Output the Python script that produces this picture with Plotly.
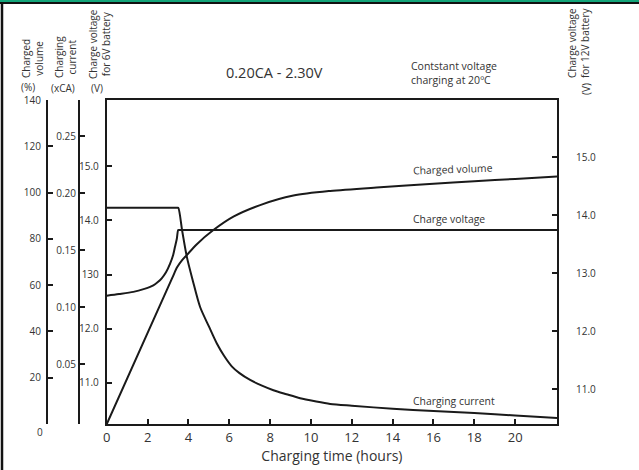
import plotly.graph_objects as go

# ---------------- data ----------------
vol_hours = [0, 3.2, 3.45, 3.7, 3.92, 4.41, 5.22, 6.2, 7.51, 9.14, 10.94, 13.39, 16, 18, 20, 22.05]
vol_pct = [0, 63.0, 67.8, 70.9, 73.0, 77.7, 83.8, 89.6, 94.6, 98.7, 100.7, 102.3, 103.8, 104.9, 105.9, 106.9]

cur_hours = [0, 3.45, 3.5, 3.7, 3.92, 4.2, 4.57, 5.0, 5.39, 5.75, 6.12, 6.5, 7.02, 7.6, 8.16, 8.8,
             9.47, 10.2, 10.94, 12, 14, 16, 18, 20, 22.05]
cur_ca = [0.187, 0.187, 0.187, 0.166, 0.144, 0.124, 0.100, 0.083, 0.068, 0.057, 0.048, 0.042, 0.036,
          0.031, 0.027, 0.0235, 0.020, 0.0173, 0.0150, 0.0134, 0.0108, 0.0087, 0.0070, 0.0048, 0.0027]

volt_hours = [0, 0.6, 1.3, 1.8, 2.28, 2.5, 2.69, 2.9, 3.1, 3.25, 3.34, 3.43, 3.5, 3.56, 22.05]
volt_6v = [12.61, 12.64, 12.68, 12.73, 12.80, 12.86, 12.93, 13.04, 13.20, 13.36, 13.51, 13.66, 13.82,
           13.82, 13.82]

x_ticks = [0, 2, 4, 6, 8, 10, 12, 14, 16, 18, 20]
vol_ticks = [0, 20, 40, 60, 80, 100, 120, 140]
vol_labels = ["", "20", "40", "60", "80", "100", "120", "140"]
cur_ticks = [-0.0024, 0.05, 0.10, 0.15, 0.20, 0.25, 0.2812]
cur_labels = ["", "0.05", "0.10", "0.15", "0.20", "0.25", ""]
v6_ticks = [11, 12, 13, 14, 15]
v6_labels = ["11.0", "12.0", "130", "14.0", "15.0"]
v12_ticks = [11, 12, 13, 14, 15]
v12_labels = ["11.0", "12.0", "13.0", "14.0", "15.0"]

# ---------------- geometry ----------------
W, H = 639, 470
def px(x):
    return x / W
def py(y):
    return 1 - y / H

FONT = "Open Sans"
INK = "#1a1a1a"
TXT = "#333333"
y_dom = [py(424), py(100)]
V12_RANGE = [10.397, 15.983]

fig = go.Figure()
line_style = dict(color=INK, width=2, shape="spline", smoothing=0.8)
fig.add_trace(go.Scatter(x=vol_hours, y=vol_pct, mode="lines", line=line_style,
                         yaxis="y", name="Charged volume", showlegend=False))
fig.add_trace(go.Scatter(x=cur_hours, y=cur_ca, mode="lines", line=line_style,
                         yaxis="y2", name="Charging current", showlegend=False))
fig.add_trace(go.Scatter(x=volt_hours, y=volt_6v, mode="lines", line=line_style,
                         yaxis="y3", name="Charge voltage", showlegend=False))
# invisible traces to activate the 12 V axis (line/ticks) and its label column
fig.add_trace(go.Scatter(x=[None], y=[None], yaxis="y4", showlegend=False, hoverinfo="skip"))
fig.add_trace(go.Scatter(x=[None], y=[None], yaxis="y5", showlegend=False, hoverinfo="skip"))

axis_common = dict(showgrid=False, zeroline=False, showline=True, linecolor=INK, linewidth=2,
                   ticks="inside", ticklen=5, tickwidth=1.5, tickcolor=INK, automargin=False,
                   tickfont=dict(family=FONT, size=10, color=TXT), domain=y_dom)

fig.update_layout(
    width=W, height=H, autosize=False,
    margin=dict(l=0, r=0, t=0, b=0, pad=0),
    paper_bgcolor="white", plot_bgcolor="white",
    font=dict(family=FONT, color=TXT),
    xaxis=dict(domain=[px(106.8), px(557)], range=[0, 22.05], anchor="y", automargin=False,
               showgrid=False, zeroline=False, showline=True, mirror=True,
               linecolor=INK, linewidth=2, ticks="inside", ticklen=5, tickwidth=1.5,
               tickcolor=INK, tickvals=x_ticks,
               tickfont=dict(family=FONT, size=13, color=TXT),
               title=dict(text="Charging time (hours)", standoff=7,
                          font=dict(family=FONT, size=14, color=TXT))),
    yaxis=dict(anchor="free", position=px(47), range=[0, 140], ticklabelstandoff=3,
               tickvals=vol_ticks, ticktext=vol_labels, **axis_common),
    yaxis2=dict(anchor="free", position=px(79), overlaying="y",
                range=[-0.0026, 0.2816], tickvals=cur_ticks, ticktext=cur_labels,
                **axis_common),
    yaxis3=dict(anchor="x", overlaying="y", range=[10.244, 16.217],
                tickvals=v6_ticks, ticktext=v6_labels, ticklabelstandoff=4, **axis_common),
    yaxis4=dict(anchor="x", overlaying="y", side="right", range=V12_RANGE,
                tickvals=v12_ticks, showticklabels=False, **axis_common),
    yaxis5=dict(anchor="free", position=px(575), overlaying="y", side="right",
                range=V12_RANGE, tickvals=v12_ticks, ticktext=v12_labels,
                showline=False, ticks="", showgrid=False, zeroline=False, automargin=False,
                tickfont=dict(family=FONT, size=10, color=TXT), domain=y_dom),
)

def ann(x, y, text, size=10, angle=0, xanchor="center", align="center", color=TXT):
    fig.add_annotation(x=px(x), y=py(y), xref="paper", yref="paper", text=text,
                       showarrow=False, textangle=angle, xanchor=xanchor, yanchor="middle",
                       align=align, font=dict(family=FONT, size=size, color=color))

# axis headers
ann(32, 59, "Charged<br>volume", angle=-90)
ann(65, 57, "Charging<br>current", angle=-90)
ann(99, 44, "Charge voltage<br>for 6V battery", angle=-90)
ann(579, 43, "Charge voltage<br>for 12V battery", angle=-90)
ann(586, 89, "(V)", angle=-90)
ann(28, 87, "(%)")
ann(63, 88, "(xCA)")
ann(97, 88, "(V)")
ann(39.5, 432, "0")

# titles
ann(274, 72, "0.20CA - 2.30V", size=14.5)
ann(409, 73, "Contstant voltage<br>charging at 20ºC", size=10.5, xanchor="left", align="left")

# curve labels
ann(411, 169, "Charged volume", size=10.4, xanchor="left", angle=-2)
ann(411, 219, "Charge voltage", size=10.4, xanchor="left")
ann(411, 401, "Charging current", size=10.4, xanchor="left")

# frame decorations
fig.add_shape(type="rect", xref="paper", yref="paper", x0=0, x1=1, y0=py(2), y1=1,
              fillcolor="#13a57a", line=dict(width=0))
fig.add_shape(type="line", xref="paper", yref="paper", x0=0, x1=1, y0=py(3), y1=py(3),
              line=dict(color="#111111", width=2))
fig.add_shape(type="line", xref="paper", yref="paper", x0=px(2), x1=px(2), y0=0, y1=py(2),
              line=dict(color="#111111", width=2.5))

fig.write_html("out.html", config={"displayModeBar": False},
               post_script="document.body.style.margin='0px';document.body.style.overflow='hidden';")
